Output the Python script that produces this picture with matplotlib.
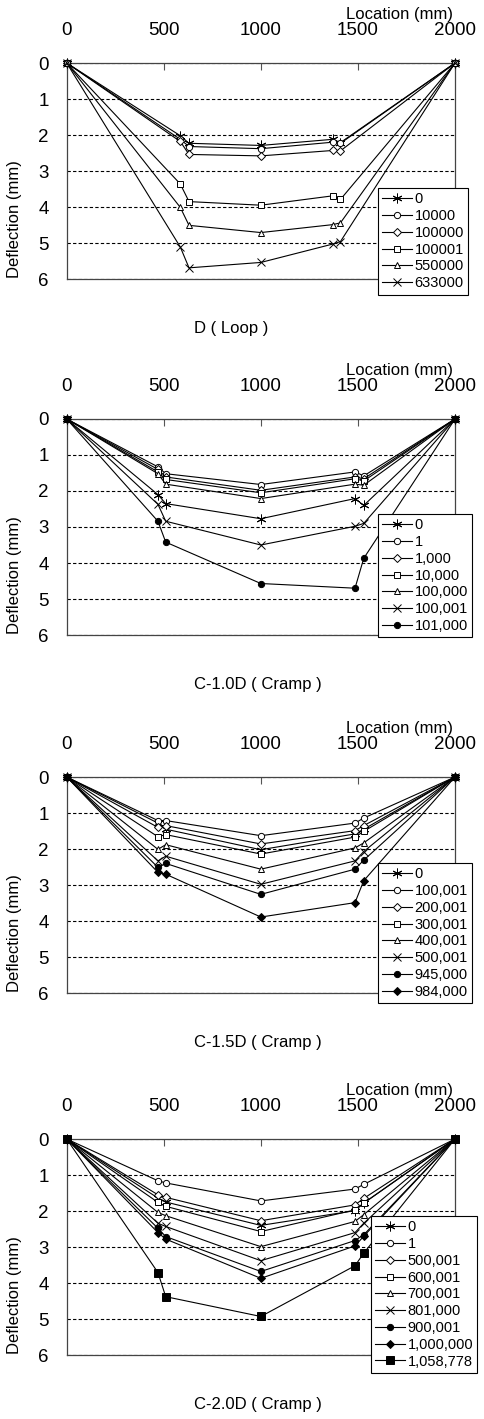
import matplotlib
matplotlib.use("Agg")
import matplotlib.pyplot as plt

plt.rcParams["font.family"] = ["Liberation Sans", "DejaVu Sans"]

# sensor locations (mm)
x_loop = [0, 585, 630, 1000, 1370, 1410, 2000]
x_cramp = [0, 470, 510, 1000, 1485, 1530, 2000]

# D ( Loop )
loop_labels = ["0", "10000", "100000", "100001", "550000", "633000"]
loop_0 = [0, 2.02, 2.23, 2.29, 2.12, 2.21, 0]
loop_10000 = [0, 2.12, 2.32, 2.38, 2.20, 2.23, 0]
loop_100000 = [0, 2.18, 2.54, 2.58, 2.43, 2.44, 0]
loop_100001 = [0, 3.36, 3.85, 3.95, 3.69, 3.79, 0]
loop_550000 = [0, 4.01, 4.51, 4.71, 4.49, 4.44, 0]
loop_633000 = [0, 5.11, 5.69, 5.54, 5.03, 4.96, 0]

# C-1.0D ( Cramp )
c10_labels = ["0", "1", "1,000", "10,000", "100,000", "100,001", "101,000"]
c10_0 = [0, 2.10, 2.35, 2.77, 2.21, 2.40, 0]
c10_1 = [0, 1.33, 1.52, 1.82, 1.47, 1.58, 0]
c10_1000 = [0, 1.40, 1.61, 1.98, 1.61, 1.66, 0]
c10_10000 = [0, 1.47, 1.68, 2.05, 1.66, 1.72, 0]
c10_100000 = [0, 1.52, 1.81, 2.21, 1.81, 1.84, 0]
c10_100001 = [0, 2.37, 2.84, 3.50, 2.98, 2.90, 0]
c10_101000 = [0, 2.84, 3.42, 4.57, 4.70, 3.87, 0]

# C-1.5D ( Cramp )
c15_labels = ["0", "100,001", "200,001", "300,001", "400,001", "500,001",
              "945,000", "984,000"]
c15_0 = [0, 1.28, 1.45, 2.02, 1.58, 1.45, 0]
c15_100001 = [0, 1.21, 1.21, 1.63, 1.28, 1.14, 0]
c15_200001 = [0, 1.40, 1.35, 1.86, 1.49, 1.35, 0]
c15_300001 = [0, 1.66, 1.60, 2.14, 1.67, 1.51, 0]
c15_400001 = [0, 2.01, 1.88, 2.56, 1.97, 1.83, 0]
c15_500001 = [0, 2.33, 2.20, 2.98, 2.33, 2.07, 0]
c15_945000 = [0, 2.51, 2.40, 3.26, 2.56, 2.31, 0]
c15_984000 = [0, 2.65, 2.70, 3.89, 3.49, 2.88, 0]

# C-2.0D ( Cramp )
c20_labels = ["0", "1", "500,001", "600,001", "700,001", "801,000",
              "900,001", "1,000,000", "1,058,778"]
c20_0 = [0, 1.64, 1.75, 2.40, 1.99, 1.78, 0]
c20_1 = [0, 1.16, 1.22, 1.72, 1.39, 1.26, 0]
c20_500001 = [0, 1.55, 1.62, 2.27, 1.83, 1.65, 0]
c20_600001 = [0, 1.76, 1.87, 2.57, 1.97, 1.78, 0]
c20_700001 = [0, 2.04, 2.13, 2.99, 2.29, 2.10, 0]
c20_801000 = [0, 2.34, 2.43, 3.38, 2.60, 2.34, 0]
c20_900001 = [0, 2.48, 2.71, 3.68, 2.82, 2.66, 0]
c20_1000000 = [0, 2.60, 2.78, 3.87, 2.97, 2.70, 0]
c20_1058778 = [0, 3.71, 4.38, 4.93, 3.52, 3.17, 0]

# marker styles: (marker, size, filled)
star = ((6, 2, 0), 7, True)
o_open = ("o", 4.5, False)
d_open = ("D", 4, False)
s_open = ("s", 4.5, False)
t_open = ("^", 5, False)
x_mark = ("x", 6, True)
o_fill = ("o", 4.5, True)
d_fill = ("D", 4, True)
s_fill = ("s", 5.5, True)

panels = [
    {"x": x_loop, "labels": loop_labels, "caption": "D ( Loop )",
     "series": [loop_0, loop_10000, loop_100000, loop_100001, loop_550000, loop_633000],
     "styles": [star, o_open, d_open, s_open, t_open, x_mark],
     "top": 63, "leg": (378, 188)},
    {"x": x_cramp, "labels": c10_labels, "caption": "C-1.0D ( Cramp )",
     "series": [c10_0, c10_1, c10_1000, c10_10000, c10_100000, c10_100001, c10_101000],
     "styles": [star, o_open, d_open, s_open, t_open, x_mark, o_fill],
     "top": 419, "leg": (378, 514)},
    {"x": x_cramp, "labels": c15_labels, "caption": "C-1.5D ( Cramp )",
     "series": [c15_0, c15_100001, c15_200001, c15_300001, c15_400001, c15_500001,
                c15_945000, c15_984000],
     "styles": [star, o_open, d_open, s_open, t_open, x_mark, o_fill, d_fill],
     "top": 777, "leg": (378, 863)},
    {"x": x_cramp, "labels": c20_labels, "caption": "C-2.0D ( Cramp )",
     "series": [c20_0, c20_1, c20_500001, c20_600001, c20_700001, c20_801000,
                c20_900001, c20_1000000, c20_1058778],
     "styles": [star, o_open, d_open, s_open, t_open, x_mark, o_fill, d_fill, s_fill],
     "top": 1139, "leg": (371, 1216)},
]

W, H = 485, 1419
fig = plt.figure(figsize=(W / 100, H / 100), dpi=100)

ax_left, ax_w, ax_h = 66.7, 388.3, 216

for p in panels:
    ax = fig.add_axes([ax_left / W, 1 - (p["top"] + ax_h) / H, ax_w / W, ax_h / H])

    for ys, lab, (m, ms, filled) in zip(p["series"], p["labels"], p["styles"]):
        ax.plot(p["x"], ys, color="black", lw=0.8, marker=m, ms=ms,
                mfc="black" if filled else "white", mec="black", mew=0.7,
                label=lab, clip_on=False, zorder=3)

    ax.set_xlim(0, 2000)
    ax.set_ylim(6, 0)
    ax.xaxis.tick_top()
    ax.set_xticks([0, 500, 1000, 1500, 2000])
    ax.set_yticks([0, 1, 2, 3, 4, 5, 6])
    ax.tick_params(axis="x", direction="in", length=5, pad=17, labelsize=13.5,
                   color="#555555")
    ax.tick_params(axis="y", length=0, pad=13, labelsize=13.5)

    # dashed horizontal grid
    ax.yaxis.grid(True, linestyle=(0, (3, 2)), color="black", lw=0.8)
    ax.set_axisbelow(True)
    for s in ax.spines.values():
        s.set_color("#444444")
        s.set_linewidth(0.9)

    ax.set_ylabel("Deflection (mm)", fontsize=12)
    ax.yaxis.set_label_coords(-0.115, 0.278)
    ax.text(0.995, 1 + 48 / ax_h, "Location (mm)", transform=ax.transAxes,
            ha="right", va="center", fontsize=12)

    lx, ly = p["leg"]
    leg = ax.legend(loc="upper left", bbox_to_anchor=(lx / W, 1 - ly / H),
                    bbox_transform=fig.transFigure, fontsize=10.5, frameon=True,
                    fancybox=False, framealpha=1, edgecolor="black",
                    borderpad=0.3, labelspacing=0.19, handlelength=2.0,
                    handletextpad=0.2, borderaxespad=0)
    leg.get_frame().set_linewidth(0.8)
    leg.set_zorder(10)

    fig.text(194 / W, 1 - (p["top"] + ax_h + 50) / H, p["caption"],
             ha="left", va="center", fontsize=12)

fig.savefig("out.png", dpi=100)
